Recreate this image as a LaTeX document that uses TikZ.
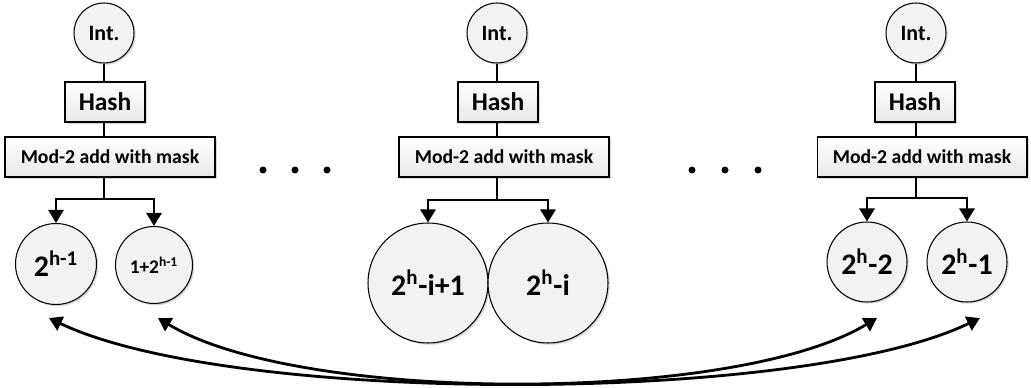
\documentclass[tikz,border=0pt]{standalone}
\usepackage{fontspec}
\setmainfont{Carlito}
\usetikzlibrary{arrows.meta,calc,shadows}

\begin{document}
\begin{tikzpicture}[x=0.02cm,y=-0.02cm,
		softshadow/.style={drop shadow={shadow xshift=0.035cm,shadow yshift=-0.035cm,fill=black!30,opacity=0.5}},
		intnode/.style={circle,draw,line width=0.6pt,fill=gray!10,minimum size=1.2cm,inner sep=0pt,
			font=\bfseries\fontsize{12.5}{14}\selectfont,softshadow},
		hashbox/.style={rectangle,draw,line width=0.6pt,top color=white,bottom color=gray!18,
			minimum width=1.6cm,minimum height=0.8cm,inner sep=0pt,
			font=\bfseries\fontsize{14.5}{16}\selectfont,softshadow},
		modbox/.style={hashbox,minimum width=4.2cm,font=\bfseries\fontsize{11.2}{13}\selectfont},
		outnode/.style={circle,draw,line width=0.6pt,fill=gray!10,inner sep=0pt,
			font=\bfseries\fontsize{17}{20}\selectfont,softshadow},
		stemline/.style={line width=1.1pt},
		forkline/.style={line width=1.6pt,-{Triangle[length=0.26cm,width=0.3cm]}},
		crossarrow/.style={line width=1.6pt,{Triangle[length=0.26cm,width=0.3cm]}-{Triangle[length=0.26cm,width=0.3cm]}}]
	\useasboundingbox (0,0) rectangle (1031,388);
	
	% Left column
	\node[intnode] (intL) at (104,33) {Int.};
	\node[hashbox] (hashL) at (105,102) {Hash};
	\node[modbox] (modL) at (110,157) {Mod-2 add with mask};
	\node[outnode,minimum size=1.62cm] (outL1) at (56,264) {2\textsuperscript{h-1}};
	\node[outnode,minimum size=1.54cm,font=\bfseries\fontsize{11}{13}\selectfont] (outL2) at (154,265) {1+2\textsuperscript{h-1}};
	\coordinate (forkL) at (104,199);
	\draw[stemline] (intL) -- (intL |- hashL.north);
	\draw[stemline] (intL |- hashL.south) -- (intL |- modL.north);
	\draw[stemline] (intL |- modL.south) -- (forkL);
	\draw[forkline] (forkL) -| (outL1);
	\draw[forkline] (forkL) -| (outL2);
	
	% Middle column
	\node[intnode] (intM) at (497,33) {Int.};
	\node[hashbox] (hashM) at (498,102) {Hash};
	\node[modbox] (modM) at (504,157) {Mod-2 add with mask};
	\node[outnode,minimum size=2.4cm] (outM1) at (428,283) {2\textsuperscript{h}-i+1};
	\node[outnode,minimum size=2.4cm] (outM2) at (548,283) {2\textsuperscript{h}-i};
	\coordinate (forkM) at (497,200);
	\draw[stemline] (intM) -- (intM |- hashM.north);
	\draw[stemline] (intM |- hashM.south) -- (intM |- modM.north);
	\draw[stemline] (intM |- modM.south) -- (forkM);
	\draw[forkline] (forkM) -| (outM1);
	\draw[forkline] (forkM) -| (outM2);
	
	% Right column
	\node[intnode] (intR) at (916,33) {Int.};
	\node[hashbox] (hashR) at (915,102) {Hash};
	\node[modbox] (modR) at (922,157) {Mod-2 add with mask};
	\node[outnode,minimum size=1.6cm] (outR1) at (867,262) {2\textsuperscript{h}-2};
	\node[outnode,minimum size=1.6cm] (outR2) at (967,262) {2\textsuperscript{h}-1};
	\coordinate (forkR) at (916,198);
	\draw[stemline] (intR) -- (intR |- hashR.north);
	\draw[stemline] (intR |- hashR.south) -- (intR |- modR.north);
	\draw[stemline] (intR |- modR.south) -- (forkR);
	\draw[forkline] (forkR) -| (outR1);
	\draw[forkline] (forkR) -| (outR2);
	
	% Ellipsis dots between the columns
	\foreach \dx in {263,295,327,692,725,758}
		\fill (\dx,170) circle (0.07cm);
	
	% Swaps between the two ends
	\coordinate (endL1) at (49,318);
	\coordinate (endL2) at (158,318);
	\coordinate (endR1) at (877,318);
	\coordinate (endR2) at (980,318);
	\draw[crossarrow] (endL1) .. controls (230,405) and (800,405) .. (endR2);
	\draw[crossarrow] (endL2) .. controls (300,404) and (735,404) .. (endR1);
\end{tikzpicture}
\end{document}
